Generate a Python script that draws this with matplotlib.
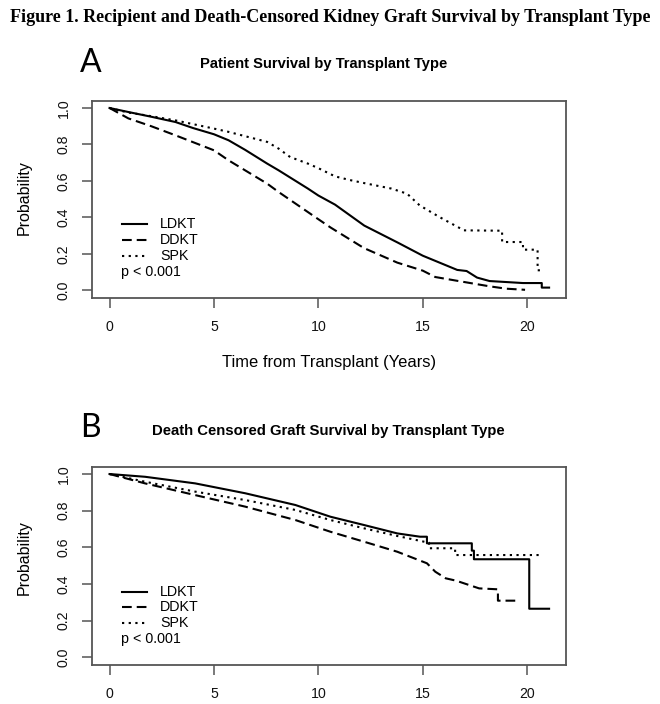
import matplotlib
matplotlib.use("Agg")
import matplotlib.pyplot as plt
from matplotlib.lines import Line2D

# ---------------- data ----------------
x_ticks = [0, 5, 10, 15, 20]
y_ticks = [0.0, 0.2, 0.4, 0.6, 0.8, 1.0]
y_ticklabels = ["0.0", "0.2", "0.4", "0.6", "0.8", "1.0"]
groups = ["LDKT", "DDKT", "SPK"]

# Panel A: patient survival
a_ldkt_t = [0, 0.9, 2, 3.16, 4, 5, 5.7, 6.5, 7.55, 8.1, 9.5, 10, 10.8, 12.2, 13.8, 15, 16.65, 17.1, 17.6, 18.2, 19.8, 20.7, 20.7, 21.05]
a_ldkt_s = [1.0, 0.978, 0.952, 0.923, 0.89, 0.856, 0.823, 0.77, 0.695, 0.658, 0.558, 0.52, 0.47, 0.355, 0.262, 0.19, 0.112, 0.106, 0.07, 0.051, 0.04, 0.04, 0.015, 0.015]

a_ddkt_t = [0, 0.9, 2, 3.16, 5, 5.7, 7.55, 8.1, 10, 10.58, 12.18, 13.78, 15, 15.6, 16.97, 18.2, 19.0, 19.9]
a_ddkt_s = [1.0, 0.943, 0.9, 0.85, 0.768, 0.713, 0.585, 0.539, 0.39, 0.345, 0.232, 0.152, 0.108, 0.073, 0.046, 0.022, 0.009, 0.003]

a_spk_t = [0, 0.9, 2, 3.16, 5, 5.7, 7.55, 8.1, 8.65, 9.5, 10, 10.8, 11.5, 12.2, 13.5, 14.25, 14.85, 15.8, 16.97, 18.8, 18.8, 19.8, 19.8, 20.5, 20.5, 20.65]
a_spk_s = [1.0, 0.975, 0.955, 0.932, 0.887, 0.869, 0.814, 0.777, 0.731, 0.695, 0.67, 0.625, 0.605, 0.588, 0.558, 0.53, 0.466, 0.402, 0.329, 0.327, 0.265, 0.265, 0.223, 0.223, 0.11, 0.11]

# Panel B: death censored graft survival
b_ldkt_t = [0, 1.7, 4.1, 6.5, 8.9, 10.58, 12.18, 13.78, 14.87, 15.2, 15.2, 17.35, 17.35, 17.45, 17.45, 20.1, 20.1, 21.05]
b_ldkt_s = [1.0, 0.985, 0.949, 0.895, 0.831, 0.767, 0.722, 0.676, 0.658, 0.658, 0.622, 0.622, 0.582, 0.582, 0.535, 0.535, 0.265, 0.265]

b_ddkt_t = [0, 1.7, 4.1, 6.5, 8.9, 10.58, 12.18, 13.78, 15.2, 15.6, 16.1, 16.6, 17.7, 18.6, 18.6, 19.6]
b_ddkt_s = [1.0, 0.949, 0.885, 0.822, 0.749, 0.685, 0.631, 0.576, 0.513, 0.467, 0.431, 0.418, 0.376, 0.371, 0.309, 0.309]

b_spk_t = [0, 1.7, 4.1, 6.5, 8.9, 10.58, 12.18, 13.78, 15.3, 15.3, 16.55, 16.55, 20.7]
b_spk_s = [1.0, 0.958, 0.904, 0.858, 0.804, 0.749, 0.704, 0.662, 0.625, 0.595, 0.595, 0.558, 0.558]

p_text = "p < 0.001"
fig_title = "Figure 1. Recipient and Death-Censored Kidney Graft Survival by Transplant Type"
title_a = "Patient Survival by Transplant Type"
title_b = "Death Censored Graft Survival by Transplant Type"
xlabel_a = "Time from Transplant (Years)"
ylabel = "Probability"

# ---------------- style ----------------
plt.rcParams['font.family'] = ['Liberation Sans', 'DejaVu Sans']
plt.rcParams['lines.scale_dashes'] = False

W, H = 660, 704
fig = plt.figure(figsize=(W / 100, H / 100), dpi=100)

styles = {
    "LDKT": dict(linestyle="-"),
    "DDKT": dict(linestyle=(0, (7.0, 3.6))),
    "SPK": dict(linestyle=(0, (1.6, 3.2))),
}
frame_col = "#555555"
LEG_FS = 10.3


def fx(px):
    return px / W


def fy(py):
    return 1 - py / H


def make_axes(bottom_px, top_px):
    left_px, right_px = 92, 566
    ax = fig.add_axes([fx(left_px), fy(bottom_px),
                       (right_px - left_px) / W, (bottom_px - top_px) / H])
    ax.set_xlim(-0.84, 21.86)
    ax.set_ylim(-0.042, 1.04)
    for sp in ax.spines.values():
        sp.set_color(frame_col)
        sp.set_linewidth(1.3)
    ax.set_xticks(x_ticks)
    ax.set_yticks(y_ticks)
    ax.set_yticklabels(y_ticklabels, rotation=90, va="center")
    ax.tick_params(axis="both", direction="out", length=7.2, width=1.1,
                   color=frame_col, labelsize=10.2, pad=8.5, labelcolor="#111111")
    ax.tick_params(axis="y", pad=8)
    return ax


def draw(ax, data, rows_px):
    for name, (t, s) in zip(groups, data):
        ax.plot(t, s, color="black", linewidth=1.5, **styles[name])
    # legend (manual, R style)
    for name, ypx in zip(groups, rows_px[:3]):
        fig.add_artist(Line2D([fx(122), fx(147)], [fy(ypx), fy(ypx)],
                              transform=fig.transFigure, color="black",
                              linewidth=1.5, **styles[name]))
        fig.text(fx(160), fy(ypx), name, fontsize=LEG_FS, ha="left", va="center")
    fig.text(fx(121), fy(rows_px[3]), p_text, fontsize=LEG_FS, ha="left", va="center")


# Panel A
axA = make_axes(298, 100.7)
draw(axA, [(a_ldkt_t, a_ldkt_s), (a_ddkt_t, a_ddkt_s), (a_spk_t, a_spk_s)],
     [224, 240, 256, 271.5])
fig.text(fx(324), fy(64), title_a, fontsize=10.6, fontweight="bold",
         ha="center", va="center")
fig.text(fx(329), fy(363), xlabel_a, fontsize=11.9, ha="center", va="center")
fig.text(fx(24), fy(198), ylabel, fontsize=11.5, rotation=90,
         ha="center", va="center")
fig.text(fx(91), fy(63), "A", fontsize=23, family=["Lato", "DejaVu Sans"],
         ha="center", va="center")

# Panel B
axB = make_axes(665, 466.7)
draw(axB, [(b_ldkt_t, b_ldkt_s), (b_ddkt_t, b_ddkt_s), (b_spk_t, b_spk_s)],
     [591.7, 607.3, 622.7, 639.3])
fig.text(fx(328), fy(430.7), title_b, fontsize=10.7, fontweight="bold",
         ha="center", va="center")
fig.text(fx(24), fy(558), ylabel, fontsize=11.5, rotation=90,
         ha="center", va="center")
fig.text(fx(90), fy(428), "B", fontsize=23, family=["Lato", "DejaVu Sans"],
         ha="center", va="center")

# Figure title
fig.text(fx(330), fy(18), fig_title, fontsize=13.0, fontweight="bold",
         family=["Liberation Serif", "DejaVu Serif"], ha="center", va="center")

fig.savefig("out.png", dpi=100)
